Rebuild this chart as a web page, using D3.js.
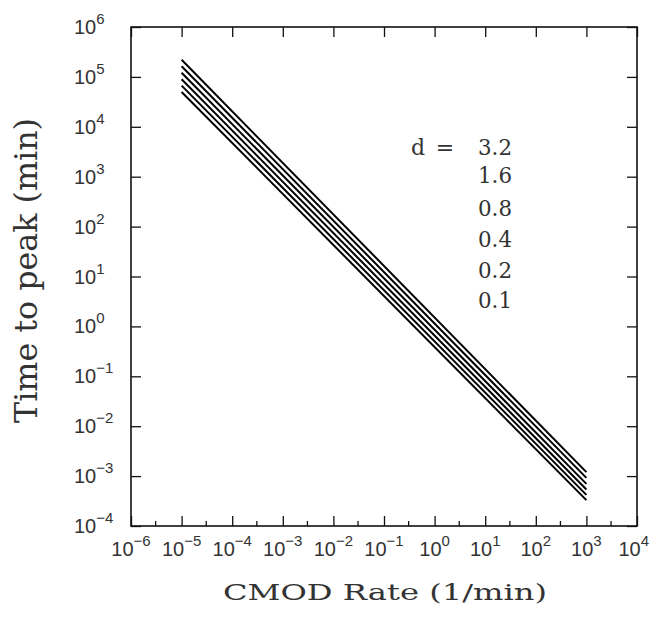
<!DOCTYPE html>
<html>
<head>
<meta charset="utf-8">
<script src="https://cdn.jsdelivr.net/npm/d3@7"></script>
<style>
  html, body { margin: 0; padding: 0; background: #fff; }
  svg { display: block; }
</style>
</head>
<body>
<svg id="chart" width="650" height="619"></svg>
<script>
// ---- data ----
const dValues   = ["3.2", "1.6", "0.8", "0.4", "0.2", "0.1"];
const rateStart = 1e-5;   // CMOD rate where lines begin (1/min)
const rateEnd   = 1e3;    // CMOD rate where lines end (1/min)
const timeAtStart = [2.2e5, 1.63e5, 1.21e5, 9.0e4, 6.7e4, 5.0e4];   // min
const timeAtEnd   = [1.2e-3, 9.2e-4, 7.0e-4, 5.4e-4, 4.2e-4, 3.3e-4]; // min
const xTickExps = [-6, -5, -4, -3, -2, -1, 0, 1, 2, 3, 4];
const yTickExps = [-4, -3, -2, -1, 0, 1, 2, 3, 4, 5, 6];
const xTitle = "CMOD Rate (1/min)";
const yTitle = "Time to peak (min)";

// ---- layout ----
const W = 650;
const L = 131, R = 637, T = 27, B = 526;
const svg = d3.select("#chart");
const x = d3.scaleLog().domain([1e-6, 1e4]).range([L, R]);
const y = d3.scaleLog().domain([1e-4, 1e6]).range([B, T]);

const xMajor = xTickExps.map(e => Math.pow(10, e));
const yMajor = yTickExps.map(e => Math.pow(10, e));
const xMinor = xTickExps.slice(0, -1).map(e => 3 * Math.pow(10, e));

function styleAxis(g) {
  g.select(".domain").remove();
  g.selectAll(".tick line").attr("stroke", "#111").attr("stroke-width", 1.3);
  g.selectAll(".tick text").remove();
}

svg.append("g").attr("transform", `translate(0,${B})`)
  .call(d3.axisBottom(x).tickValues(xMajor).tickSizeInner(-10).tickSizeOuter(0).tickFormat(""))
  .call(styleAxis);
svg.append("g").attr("transform", `translate(0,${B})`)
  .call(d3.axisBottom(x).tickValues(xMinor).tickSizeInner(-5).tickSizeOuter(0).tickFormat(""))
  .call(styleAxis);
svg.append("g").attr("transform", `translate(0,${T})`)
  .call(d3.axisTop(x).tickValues(xMajor).tickSizeInner(-10).tickSizeOuter(0).tickFormat(""))
  .call(styleAxis);
svg.append("g").attr("transform", `translate(${L},0)`)
  .call(d3.axisLeft(y).tickValues(yMajor).tickSizeInner(-10).tickSizeOuter(0).tickFormat(""))
  .call(styleAxis);
svg.append("g").attr("transform", `translate(${R},0)`)
  .call(d3.axisRight(y).tickValues(yMajor).tickSizeInner(-10).tickSizeOuter(0).tickFormat(""))
  .call(styleAxis);

// frame
svg.append("rect")
  .attr("x", L).attr("y", T).attr("width", R - L).attr("height", B - T)
  .attr("fill", "none").attr("stroke", "#111").attr("stroke-width", 1.6);

// tick labels
const tickFont = "'Liberation Sans', Arial, sans-serif";
function powLabel(sel, e) {
  sel.append("tspan").text("10");
  sel.append("tspan").attr("dy", -10).attr("font-size", 15)
    .text(e < 0 ? "\u2212" + Math.abs(e) : String(e));
}
xTickExps.forEach(e => {
  const t = svg.append("text")
    .attr("x", x(Math.pow(10, e)) ).attr("y", 556)
    .attr("text-anchor", "middle")
    .attr("font-family", tickFont).attr("font-size", 20).attr("fill", "#333");
  powLabel(t, e);
  // keep the label inside the picture
  const bb = t.node().getBBox();
  if (bb.x + bb.width > W - 1) {
    t.attr("x", +t.attr("x") - (bb.x + bb.width - (W - 1)));
  }
});
yTickExps.forEach(e => {
  const t = svg.append("text")
    .attr("x", 74).attr("y", y(Math.pow(10, e)) + 7)
    .attr("text-anchor", "start")
    .attr("font-family", tickFont).attr("font-size", 20).attr("fill", "#333");
  powLabel(t, e);
});

// axis titles
const serif = "'DejaVu Serif', serif";
svg.append("text")
  .attr("x", 223).attr("y", 600)
  .attr("font-family", serif).attr("font-size", 23).attr("fill", "#333")
  .attr("textLength", 324).attr("lengthAdjust", "spacingAndGlyphs")
  .text(xTitle);
svg.append("text")
  .attr("transform", "translate(37,423) rotate(-90)")
  .attr("font-family", serif).attr("font-size", 32).attr("fill", "#333")
  .attr("textLength", 305).attr("lengthAdjust", "spacingAndGlyphs")
  .text(yTitle);

// lines
const line = d3.line().x(d => x(d[0])).y(d => y(d[1]));
dValues.forEach((d, i) => {
  svg.append("path")
    .datum([[rateStart, timeAtStart[i]], [rateEnd, timeAtEnd[i]]])
    .attr("d", line)
    .attr("fill", "none").attr("stroke", "#000").attr("stroke-width", 2);
});

// legend
const legBase = [155, 183, 216, 247, 278, 308];
svg.append("text").attr("x", 411).attr("y", legBase[0])
  .attr("font-family", serif).attr("font-size", 22).attr("fill", "#333").text("d");
svg.append("text").attr("x", 445).attr("y", legBase[0])
  .attr("text-anchor", "middle")
  .attr("font-family", serif).attr("font-size", 22).attr("fill", "#333").text("=");
dValues.forEach((d, i) => {
  svg.append("text").attr("x", 478).attr("y", legBase[i])
    .attr("font-family", serif).attr("font-size", 22).attr("fill", "#333")
    .attr("textLength", 34).attr("lengthAdjust", "spacingAndGlyphs")
    .text(d);
});
</script>
</body>
</html>
